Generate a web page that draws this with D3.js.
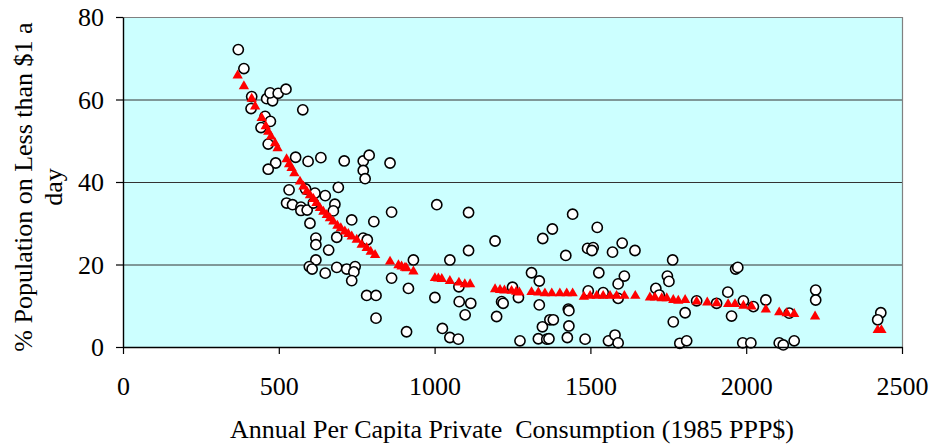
<!DOCTYPE html>
<html>
<head>
<meta charset="utf-8">
<script src="https://cdn.jsdelivr.net/npm/d3@7/dist/d3.min.js"></script>
<style>
  html, body { margin: 0; padding: 0; background: #ffffff; }
  svg { display: block; }
  svg text { font-family: "Liberation Serif", "DejaVu Serif", serif; fill: #000; }
</style>
</head>
<body>
<svg id="chart" width="933" height="446"></svg>
<script>
// Observed poverty rate by country: consumption (1985 PPP$) and % below $1/day
const consumption = [
  370, 388, 413, 411, 461, 480, 472, 498, 523, 577, 456, 473, 443, 466, 490, 466, 554, 594, 635, 710,
  771, 790, 771, 777, 857,
  533, 586, 616, 649, 691, 525, 544, 571, 571, 591, 611, 680, 675, 600, 734, 805, 862, 619, 619, 686,
  660, 771, 784, 619, 598, 607, 649, 686, 718, 745, 741, 734, 862, 782, 812, 812,
  1007, 1109, 1109, 1194, 932, 1049, 916, 1001, 1078, 1079, 1116, 1098, 910, 1025, 1049, 1076, 1199, 1215, 1220,
  1250, 1269, 1274, 1311, 1336, 1336, 1346, 1370, 1381, 1333, 1360, 1367, 1347, 1378, 1443, 1421, 1429, 1431,
  1431, 1426, 1483, 1491, 1509, 1505, 1522, 1571, 1602, 1643, 1527, 1493, 1541, 1589, 1609, 1589, 1558, 1579,
  1589, 1764, 1747, 1752, 1710, 1721, 1766, 1787,
  1804, 1809, 1841, 1905, 1941, 1953, 1966, 1973, 1991, 2023, 1989, 2015, 2063, 2106, 2119, 2154, 2138, 2223,
  2223, 2432, 2422
];
const povertyActual = [
  72.1, 67.5, 60.7, 57.8, 60.2, 59.7, 61.6, 61.5, 62.5, 57.5, 55.9, 54.7, 53.2, 49.2, 44.6, 43.1, 46.0, 45.0, 45.9, 45.1,
  45.1, 46.5, 42.8, 40.8, 44.6,
  38.1, 38.3, 37.3, 36.7, 38.7, 34.9, 34.5, 33.9, 33.1, 33.2, 34.9, 34.6, 33.0, 30.0, 30.8, 30.4, 32.7, 26.4, 24.8, 26.6,
  23.5, 26.4, 26.0, 21.1, 19.5, 18.9, 17.9, 19.3, 18.9, 19.5, 18.2, 16.1, 16.7, 12.5, 12.5, 7.0,
  34.5, 32.6, 23.4, 25.7, 21.1, 21.1, 14.2, 12.0, 14.6, 11.0, 10.6, 7.8, 3.7, 4.5, 2.3, 1.9, 7.4, 11.0, 10.6,
  14.5, 12.0, 1.5, 18.0, 16.0, 10.2, 4.9, 6.6, 6.6, 2.0, 1.9, 2.0, 26.3, 28.6, 32.2, 22.2, 9.2, 8.8,
  5.1, 2.3, 1.9, 23.9, 24.1, 23.4, 29.0, 23.0, 25.2, 23.4, 18.0, 13.6, 13.2, 15.3, 17.2, 11.8, 1.5, 2.9,
  1.0, 21.1, 17.2, 15.9, 14.2, 12.6, 6.1, 0.9,
  8.3, 1.5, 11.2, 10.6, 13.3, 7.5, 18.9, 19.3, 11.2, 9.8, 1.0, 1.0, 11.4, 1.0, 0.5, 1.5, 8.2, 13.8,
  11.4, 8.3, 6.6
];

// Model-predicted poverty rate
const fittedConsumption = [
  368, 388, 413, 424, 445, 458, 466, 475, 488, 496, 525, 533, 541, 550, 568, 579, 590, 600, 611, 621,
  632, 643, 654, 664, 675, 688, 699, 712, 723, 734, 750, 766, 782, 795, 809, 857, 884, 894, 905, 910,
  932, 1001, 1012, 1023, 1049, 1078, 1097, 1114, 1194, 1210, 1224, 1247, 1262, 1272, 1311, 1333, 1354, 1376,
  1402, 1424, 1443, 1479, 1499, 1520, 1541, 1563, 1584, 1609, 1644, 1691, 1707, 1729, 1745, 1766, 1782, 1804,
  1841, 1875, 1905, 1942, 1964, 1991, 2017, 2063, 2106, 2130, 2154, 2221, 2422, 2434
];
const povertyFitted = [
  65.8, 63.2, 60.2, 58.3, 55.5, 53.5, 52.2, 51.0, 49.4, 48.2, 45.5, 44.3, 43.4, 42.1, 40.1, 38.9, 37.7, 36.8, 35.9, 34.9,
  33.7, 32.8, 32.0, 31.2, 30.4, 29.4, 28.8, 28.0, 27.4, 26.8, 26.0, 24.8, 24.0, 23.1, 22.3, 20.7, 19.8, 19.5, 19.2, 19.1,
  18.3, 16.7, 16.6, 16.5, 16.0, 15.6, 15.2, 15.2, 14.0, 13.8, 13.7, 13.6, 13.4, 13.2, 13.3, 13.2, 13.0, 13.0,
  13.0, 13.0, 13.0, 12.2, 12.4, 12.4, 12.4, 12.4, 12.4, 12.4, 12.4, 12.0, 12.0, 11.8, 11.8, 11.4, 11.2, 11.4,
  11.0, 10.8, 10.6, 10.4, 10.4, 10.0, 9.8, 9.1, 8.4, 8.2, 8.0, 7.4, 4.1, 4.1
];

const xTicks = [0, 500, 1000, 1500, 2000, 2500];
const yTicks = [0, 20, 40, 60, 80];
const yGridValues = [20, 40, 60];

const xTitle = "Annual Per Capita Private  Consumption (1985 PPP$)";
const yTitleLines = ["% Population on Less than $1 a", "day"];

const serif = "'Liberation Serif', 'DejaVu Serif', serif";
const fontSize = "26px";

const svg = d3.select("#chart");
const plot = { left: 123, right: 902, top: 17, bottom: 347 };

const x = d3.scaleLinear().domain([0, 2500]).range([plot.left, plot.right]);
const y = d3.scaleLinear().domain([0, 80]).range([plot.bottom, plot.top]);

// plot area background
svg.append("rect")
  .attr("x", plot.left).attr("y", plot.top)
  .attr("width", plot.right - plot.left).attr("height", plot.bottom - plot.top)
  .attr("fill", "#ccffff");

// horizontal gridlines
svg.append("g").selectAll("line").data(yGridValues).join("line")
  .attr("x1", plot.left).attr("x2", plot.right)
  .attr("y1", d => y(d) + 0.5).attr("y2", d => y(d) + 0.5)
  .attr("stroke", "#333").attr("stroke-width", 1);

// plot area frame (top and right)
svg.append("path")
  .attr("d", `M${plot.left},${plot.top + 0.5}H${plot.right + 0.5}V${plot.bottom}`)
  .attr("fill", "none").attr("stroke", "#808080").attr("stroke-width", 1.2);

// observed points
svg.append("g").selectAll("circle").data(consumption).join("circle")
  .attr("cx", (d) => x(d))
  .attr("cy", (d, i) => y(povertyActual[i]))
  .attr("r", 5.1)
  .attr("fill", "#ffffff")
  .attr("stroke", "#000")
  .attr("stroke-width", 1.6);

// fitted points
const tri = d3.symbol().type(d3.symbolTriangle).size(46);
svg.append("g").selectAll("path").data(fittedConsumption).join("path")
  .attr("d", tri)
  .attr("transform", (d, i) => `translate(${x(d)},${y(povertyFitted[i])})`)
  .attr("fill", "#ff0000");

// axes
const xAxis = svg.append("g")
  .attr("transform", `translate(0,${plot.bottom})`)
  .call(d3.axisBottom(x).tickValues(xTicks).tickFormat(d3.format("d")).tickSize(7).tickSizeOuter(0));
xAxis.attr("font-family", serif);
xAxis.select(".domain").attr("stroke", "#000").attr("stroke-width", 1.4);
xAxis.selectAll(".tick line").attr("stroke", "#000").attr("stroke-width", 1.2);
xAxis.selectAll(".tick text")
  .attr("y", 48).attr("dy", null)
  .style("font-size", fontSize);

const yAxis = svg.append("g")
  .attr("transform", `translate(${plot.left},0)`)
  .call(d3.axisLeft(y).tickValues(yTicks).tickFormat(d3.format("d")).tickSize(7).tickPadding(12).tickSizeOuter(0));
yAxis.attr("font-family", serif);
yAxis.select(".domain").attr("stroke", "#000").attr("stroke-width", 1.4);
yAxis.selectAll(".tick line").attr("stroke", "#000").attr("stroke-width", 1.2);
yAxis.selectAll(".tick text")
  .attr("dy", "0.34em")
  .style("font-size", fontSize);

// axis titles
svg.append("text")
  .attr("x", 512).attr("y", 438)
  .attr("text-anchor", "middle")
  .style("font-size", fontSize)
  .style("white-space", "pre")
  .text(xTitle);

const yTitle = svg.append("text")
  .attr("transform", "translate(0,187) rotate(-90)")
  .attr("text-anchor", "middle")
  .style("font-size", fontSize);
yTitle.selectAll("tspan").data(yTitleLines).join("tspan")
  .attr("x", 0)
  .attr("y", (d, i) => 32 + i * 30)
  .text(d => d);
</script>
</body>
</html>
